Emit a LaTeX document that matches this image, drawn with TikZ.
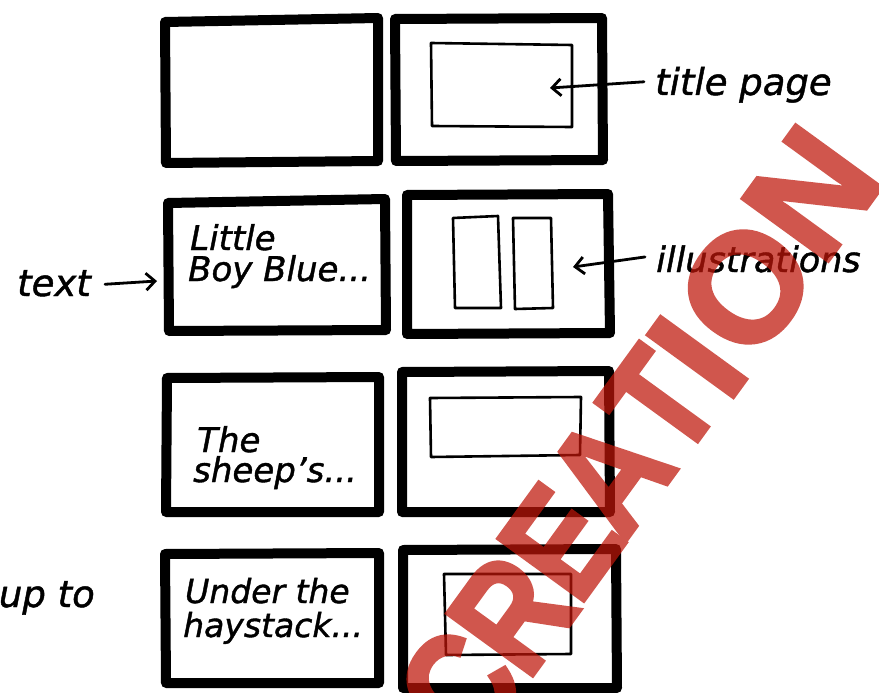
\documentclass[tikz,border=0pt]{standalone}
\usepackage{fontspec}
\setmainfont[FakeBold=1.2]{DejaVu Sans}
\newfontfamily\wmfont[FakeBold=2.5]{Liberation Sans Bold}
\usetikzlibrary{arrows.meta}
\definecolor{wmred}{RGB}{191,22,9}
\begin{document}
\begin{tikzpicture}[x=1pt,y=-1pt,
  pagebox/.style={draw=black,line width=10pt,line join=round,line cap=round},
  innerbox/.style={draw=black,line width=2.6pt,line join=round,line cap=round},
  hand/.style={font=\fontsize{34}{34}\selectfont\itshape,inner sep=0pt,anchor=base west},
  lbl/.style={font=\fontsize{37}{37}\selectfont\itshape,inner sep=0pt},
  arr/.style={draw=black,line width=2.8pt,line cap=round,-{Straight Barb[length=9pt,width=17pt,line width=2.8pt]}},
  wm/.style={font=\fontsize{154}{154}\selectfont\wmfont,text=wmred,inner sep=0pt,anchor=center,rotate=54}]
\useasboundingbox (0,0) rectangle (879,693);
\fill[white] (0,0) rectangle (879,693);
% row 1
\draw[pagebox] (165,22) -- (378,18) -- (378,161) -- (166,163) -- cycle;
\draw[pagebox] (395,19) -- (602,18) -- (603,160) -- (396,161) -- cycle;
\draw[innerbox] (431,43) -- (572,45) -- (572,127) -- (432,126) -- cycle;
\coordinate (titletip) at (550,88);
\node[lbl,anchor=base west] (titlelbl) at (655,95) {title page};
\draw[arr] ([xshift=-11pt,yshift=3pt]titlelbl.west) -- (titletip);
% row 2
\draw[pagebox] (168,203) -- (385,199) -- (386,330) -- (169,331) -- cycle;
\draw[pagebox] (407,195) -- (608,194) -- (610,333) -- (407,334) -- cycle;
\draw[innerbox] (453,218) -- (498,216) -- (501,308) -- (455,308) -- cycle;
\draw[innerbox] (513,218) -- (551,218) -- (553,308) -- (515,309) -- cycle;
\node[hand] (lbb1) at (190,250) {Little};
\node[hand] (lbb2) at (188,281) {Boy Blue...};
\coordinate (illtip) at (573,267);
\node[lbl,font=\fontsize{35}{35}\selectfont\itshape,anchor=base west] (illlbl) at (656,272) {illustrations};
\draw[arr] ([xshift=-11pt,yshift=2pt]illlbl.west) -- (illtip);
\node[lbl,anchor=base west] (textlbl) at (17,296) {text};
\coordinate (texttip) at (157,281);
\draw[arr] ([xshift=14pt,yshift=-1pt]textlbl.east) -- (texttip);
% row 3
\draw[pagebox] (167,378) -- (379,377) -- (379,512) -- (166,512) -- cycle;
\draw[pagebox] (402,372) -- (609,371) -- (610,512) -- (402,512) -- cycle;
\draw[innerbox] (430,398) -- (581,397) -- (580,455) -- (431,457) -- cycle;
\node[hand] (sh1) at (197,452) {The};
\node[hand] (sh2) at (193,482) {sheep's...};
% row 4
\draw[pagebox] (165,554) -- (379,553) -- (379,683) -- (166,683) -- cycle;
\draw[pagebox] (403,550) -- (616,549) -- (617,688) -- (403,688) -- cycle;
\draw[innerbox] (444,574) -- (571,574) -- (571,654) -- (446,655) -- cycle;
\node[hand,font=\fontsize{33}{33}\selectfont\itshape] (hs1) at (185,603) {Under the};
\node[hand,font=\fontsize{33}{33}\selectfont\itshape] (hs2) at (183,637) {haystack...};
\node[lbl,anchor=base east] (uptolbl) at (95,607) {up to};
% watermark, one letter at a time, blended as one group
\begin{scope}[transparency group,opacity=0.72]
\node[wm,xscale=0.84] (wmC) at (460,688) {C};
\node[wm,xscale=0.84] (wmR) at (512,614) {R};
\node[wm,xscale=0.84] (wmE) at (561,542) {E};
\node[wm,xscale=0.86] (wmA) at (609,474) {A};
\node[wm,xscale=0.84] (wmT) at (660,403) {T};
\node[wm] (wmI) at (697,357) {I};
\node[wm] (wmO) at (746,287) {O};
\node[wm] (wmN) at (812,193) {N};
\end{scope}
\end{tikzpicture}
\end{document}
